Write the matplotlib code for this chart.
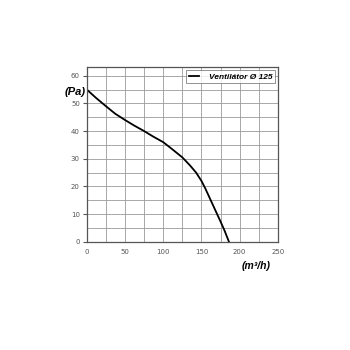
import matplotlib.pyplot as plt
from matplotlib.ticker import MultipleLocator

# fan curve
flow = [0, 12, 25, 37, 50, 62, 75, 87, 100, 112, 125, 135, 143, 150, 155, 160, 165, 170, 175, 180, 186]
pressure = [55, 52, 49, 46.3, 44, 42, 40, 38, 36, 33.4, 30.5, 27.6, 25, 22, 19.3, 16.3, 13.3, 10.3, 7.3, 4.2, 0]
series_name = "Ventilátor Ø 125"
x_ticks = [0, 50, 100, 150, 200, 250]
y_ticks = [0, 10, 20, 30, 40, 50, 60]

narrow = ["Liberation Sans Narrow", "Liberation Sans", "DejaVu Sans"]

fig = plt.figure(figsize=(3.5, 3.5), dpi=100)
fig.patch.set_facecolor("white")
ax = fig.add_axes([0.248, 0.309, 0.546, 0.5])

ax.plot(flow, pressure, color="black", linewidth=1.3, label=series_name)

ax.set_xlim(0, 250)
ax.set_ylim(0, 63.2)
ax.set_xticks(x_ticks)
ax.set_yticks(y_ticks)
ax.xaxis.set_minor_locator(MultipleLocator(25))
ax.yaxis.set_minor_locator(MultipleLocator(5))
ax.grid(True, which="both", color="#9a9a9a", linewidth=0.6)
ax.set_axisbelow(True)

for side in ax.spines.values():
    side.set_color("#555555")
    side.set_linewidth(0.9)

ax.tick_params(which="both", length=0)
ax.tick_params(axis="y", which="major", length=3, width=0.8, color="#555555", pad=2)
ax.tick_params(labelsize=5, labelcolor="#555555")
ax.tick_params(axis="x", pad=5)

leg = ax.legend(loc="upper right", handlelength=1.3, frameon=True, fancybox=False,
                borderaxespad=0.4, borderpad=0.3, handletextpad=1.1,
                prop={"family": narrow, "size": 6, "weight": "bold", "style": "italic"})
leg.get_frame().set_edgecolor("#777777")
leg.get_frame().set_linewidth(0.7)

ax.text(-15.5, 54, "(Pa)", fontsize=8, fontweight="bold", fontstyle="italic",
        family=narrow, ha="center", va="center", clip_on=False)
ax.text(221, -8.6, "(m³/h)", fontsize=7.5, fontweight="bold", fontstyle="italic",
        family=narrow, ha="center", va="center", clip_on=False)

fig.savefig("out.png", dpi=100, facecolor="white")
